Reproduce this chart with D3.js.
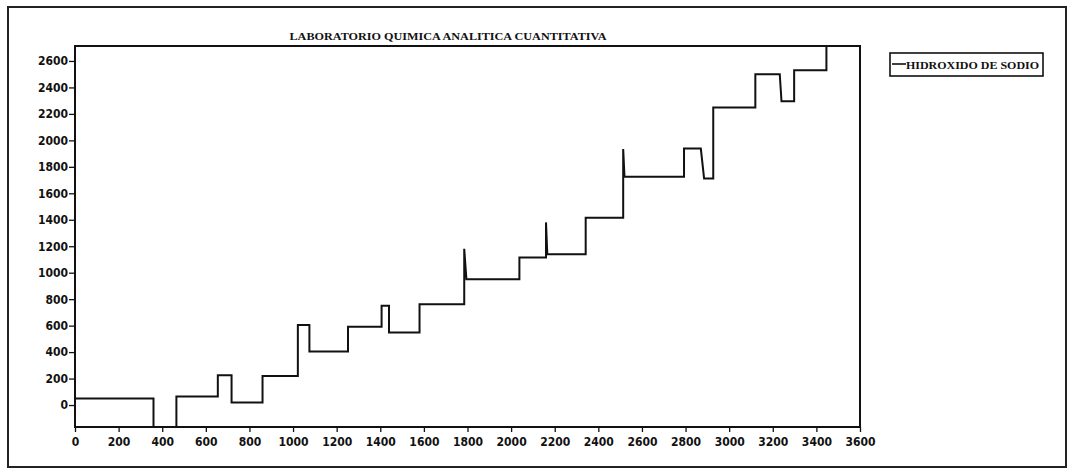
<!DOCTYPE html>
<html>
<head>
<meta charset="utf-8">
<script src="https://cdn.jsdelivr.net/npm/d3@7"></script>
<style>
  html, body { margin: 0; padding: 0; background: #fff; }
  svg { display: block; }
  text { font-family: "Liberation Serif", "DejaVu Serif", serif; font-weight: bold; fill: #111; }
  .tick text { font-family: "Liberation Sans Narrow", "DejaVu Sans Condensed", sans-serif; }
</style>
</head>
<body>
<svg id="chart" width="1070" height="469"></svg>
<script>
// ---- data ----
const chartTitle = "LABORATORIO QUIMICA ANALITICA CUANTITATIVA";
const seriesName = "HIDROXIDO DE SODIO";
const timeValues = [0, 360, 360, 465, 465, 655, 655, 718, 718, 860, 860, 1022, 1022, 1075, 1075, 1252, 1252,
  1406, 1406, 1440, 1440, 1580, 1580, 1785, 1785, 1795, 2038, 2038, 2160, 2160, 2166, 2342, 2342,
  2514, 2514, 2520, 2793, 2793, 2870, 2885, 2927, 2927, 3120, 3120, 3232, 3240, 3298, 3298, 3446, 3446];
const sodiumValues = [50, 50, -250, -250, 65, 65, 225, 225, 20, 20, 220, 220, 605, 605, 405, 405, 592,
  592, 750, 750, 548, 548, 762, 762, 1180, 950, 950, 1115, 1115, 1380, 1140, 1140, 1415,
  1415, 1935, 1725, 1725, 1938, 1938, 1712, 1712, 2248, 2248, 2500, 2500, 2295, 2295, 2530, 2530, 2800];
const xTickValues = [0, 200, 400, 600, 800, 1000, 1200, 1400, 1600, 1800, 2000, 2200, 2400, 2600, 2800, 3000, 3200, 3400, 3600];
const yTickValues = [0, 200, 400, 600, 800, 1000, 1200, 1400, 1600, 1800, 2000, 2200, 2400, 2600];
const xDomain = [0, 3600];
const yDomain = [-166, 2713];

// ---- layout ----
const svg = d3.select("#chart");
const plot = { left: 75, right: 860, top: 46, bottom: 427 };

const x = d3.scaleLinear().domain(xDomain).range([plot.left, plot.right]);
const y = d3.scaleLinear().domain(yDomain).range([plot.bottom, plot.top]);

// outer frame
svg.append("rect")
  .attr("x", 8).attr("y", 7).attr("width", 1058).attr("height", 460)
  .attr("fill", "none").attr("stroke", "#222").attr("stroke-width", 2);

// title
svg.append("text")
  .attr("x", 448).attr("y", 40)
  .attr("text-anchor", "middle")
  .attr("font-size", 11)
  .attr("textLength", 317).attr("lengthAdjust", "spacingAndGlyphs")
  .text(chartTitle);

// clip
svg.append("clipPath").attr("id", "clip")
  .append("rect")
  .attr("x", plot.left).attr("y", plot.top)
  .attr("width", plot.right - plot.left).attr("height", plot.bottom - plot.top);

// line
const pts = timeValues.map((t, i) => [t, sodiumValues[i]]);
const line = d3.line().x(d => x(d[0])).y(d => y(d[1]));
svg.append("path")
  .datum(pts)
  .attr("clip-path", "url(#clip)")
  .attr("d", line)
  .attr("fill", "none")
  .attr("stroke", "#111")
  .attr("stroke-width", 2)
  .attr("stroke-linejoin", "miter");

// plot frame
svg.append("rect")
  .attr("x", plot.left).attr("y", plot.top)
  .attr("width", plot.right - plot.left).attr("height", plot.bottom - plot.top)
  .attr("fill", "none").attr("stroke", "#111").attr("stroke-width", 2);

// axes
const xAxis = d3.axisBottom(x).tickValues(xTickValues).tickSize(5).tickPadding(5).tickFormat(d3.format("d"));
const gx = svg.append("g").attr("transform", `translate(0,${plot.bottom})`).call(xAxis);
gx.select(".domain").remove();
gx.selectAll("line").attr("stroke", "#111").attr("stroke-width", 1.3);
gx.selectAll("text").attr("font-size", 12).attr("font-family", null).attr("font-weight", "bold").attr("fill", "#111");

const yAxis = d3.axisLeft(y).tickValues(yTickValues).tickSize(6).tickPadding(1).tickFormat(d3.format("d"));
const gy = svg.append("g").attr("transform", `translate(${plot.left},0)`).call(yAxis);
gy.select(".domain").remove();
gy.selectAll("line").attr("stroke", "#111").attr("stroke-width", 1.3);
gy.selectAll("text").attr("font-size", 12).attr("font-family", null).attr("font-weight", "bold").attr("fill", "#111");

// legend
const lg = svg.append("g");
lg.append("rect")
  .attr("x", 890).attr("y", 53).attr("width", 153).attr("height", 23)
  .attr("fill", "none").attr("stroke", "#111").attr("stroke-width", 1.6);
lg.append("line")
  .attr("x1", 892).attr("x2", 906).attr("y1", 64).attr("y2", 64)
  .attr("stroke", "#111").attr("stroke-width", 1.6);
lg.append("text")
  .attr("x", 906).attr("y", 69)
  .attr("font-size", 11)
  .attr("textLength", 133).attr("lengthAdjust", "spacingAndGlyphs")
  .text(seriesName);
</script>
</body>
</html>
